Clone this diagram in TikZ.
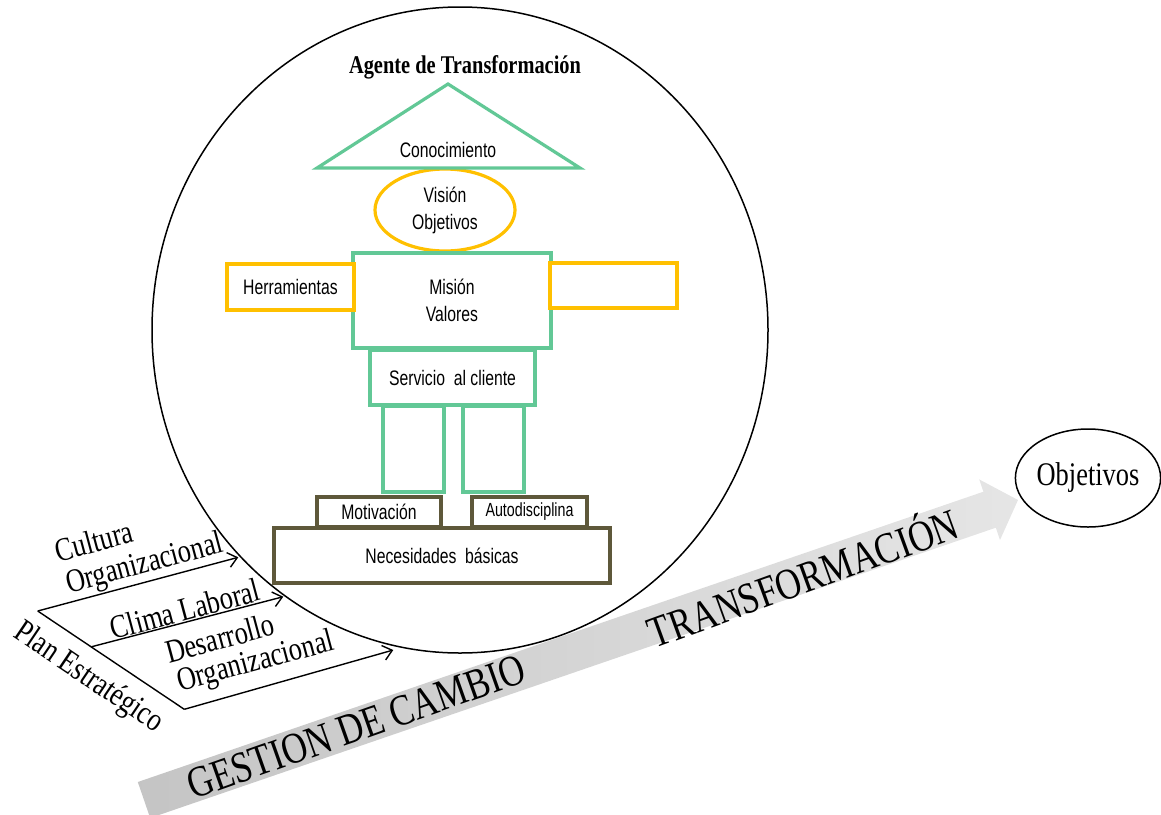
\documentclass[tikz,border=0pt]{standalone}
\usepackage{fontspec}
\setmainfont{Liberation Serif}
\newfontfamily\sansn[FakeStretch=0.75]{Liberation Sans}
\newfontfamily\serifn[FakeStretch=0.8]{Liberation Serif}
\usetikzlibrary{shapes.geometric,arrows.meta}
\definecolor{grn}{RGB}{98,200,150}
\definecolor{ylw}{RGB}{255,192,0}
\definecolor{olv}{RGB}{94,88,58}
\begin{document}
\begin{tikzpicture}[x=1pt,y=-1pt,
 greenbox/.style={draw=grn,line width=3.2pt,fill=white,inner sep=0pt},
 yellowbox/.style={draw=ylw,line width=3.2pt,fill=white,inner sep=0pt},
 olivebox/.style={draw=olv,line width=3.2pt,fill=white,inner sep=0pt},
 stxt/.style={font=\sansn\fontsize{21}{27}\selectfont,align=center},
 sml/.style={font=\sansn\fontsize{19}{23}\selectfont},
 ltxt/.style={font=\serifn\fontsize{33}{36}\selectfont,align=center,inner sep=0pt},
 btxt/.style={font=\serifn\fontsize{44}{44}\selectfont,inner sep=0pt},
 feed/.style={line width=1.4pt,-{Straight Barb[length=9pt,width=15pt,line width=1.4pt]}},
]
\useasboundingbox (0,0) rectangle (1161,814);
\clip (0,0) rectangle (1161,814);

% big arrow
\shade[left color=black!23,right color=black!10]
  (137.8,782) -- (983.4,491.7) -- (979.2,479.4) -- (1018,500) -- (1000,540) -- (995.8,527.7) -- (150.2,818) -- cycle;
\node[btxt,rotate=19.5] (gestion) at (356,727) {GESTION DE CAMBIO};
\node[btxt,rotate=20] (transf) at (802,575) {TRANSFORMACIÓN};

% objective
\node[draw,line width=1.5pt,ellipse,minimum width=142,minimum height=98,inner sep=0pt,ltxt] (obj) at (1088,478) {Objetivos};

% big circle
\node[draw,line width=1.5pt,ellipse,minimum width=616,minimum height=646,inner sep=0pt] (agentc) at (460,330) {};
\node[font=\serifn\bfseries\fontsize{25.5}{26}\selectfont] (agente) at (465,67) {Agente de Transformación};

% head
\node[draw=ylw,line width=3.2pt,ellipse,minimum width=140,minimum height=82,inner sep=0pt,stxt] (vision) at (445,210) {Visión\\Objetivos};
\coordinate (tl) at (317,168);
\coordinate (tt) at (448,84);
\coordinate (tr) at (580,168);
\draw[grn,line width=3.2pt] (tl) -- (tt) -- (tr) -- cycle;
\node[stxt] (conoc) at (448,150) {Conocimiento};

% body
\node[greenbox,minimum width=198,minimum height=95,stxt] (body) at (452,300.5) {Misión\\Valores};
\node[yellowbox,minimum width=127,minimum height=46,stxt] (larm) at (290.5,287) {Herramientas};
\node[yellowbox,minimum width=127,minimum height=45] (rarm) at (613.5,285.5) {};
\node[greenbox,minimum width=165,minimum height=55,stxt] (serv) at (452.5,377.5) {Servicio~~al cliente};
\node[greenbox,minimum width=61,minimum height=86] (lleg) at (413.5,449) {};
\node[greenbox,minimum width=61,minimum height=86] (rleg) at (493.5,449) {};
\node[olivebox,minimum width=124,minimum height=30,stxt] (motiv) at (379,512) {Motivación};
\node[olivebox,minimum width=115,minimum height=30,sml] (autod) at (529.5,512) {Autodisciplina};
\node[olivebox,minimum width=336,minimum height=55,stxt] (neces) at (442,555.5) {Necesidades~~básicas};

% left inputs
\coordinate (s1) at (37.7,611);
\coordinate (s2) at (91.7,646.7);
\coordinate (s3) at (184.3,709.3);
\coordinate (e1) at (238.3,557.3);
\coordinate (e2) at (283.3,596.7);
\coordinate (e3) at (393.3,650);
\draw[line width=1.4pt] (s1) -- (s3);
\draw[feed] (s1) -- (e1);
\draw[feed] (s2) -- (e2);
\draw[feed] (s3) -- (e3);
\node[ltxt,rotate=15] (cult) at (94,541) {Cultura};
\node[ltxt,rotate=15] (org1) at (145,565) {Organizacional};
\node[ltxt,rotate=15] (clima) at (185,609) {Clima Laboral};
\node[ltxt,rotate=15] (desa) at (220,638) {Desarrollo};
\node[ltxt,rotate=15] (org2) at (256,663) {Organizacional};
\node[ltxt,rotate=-34] (plan) at (88,678) {Plan Estratégico};
\end{tikzpicture}
\end{document}
